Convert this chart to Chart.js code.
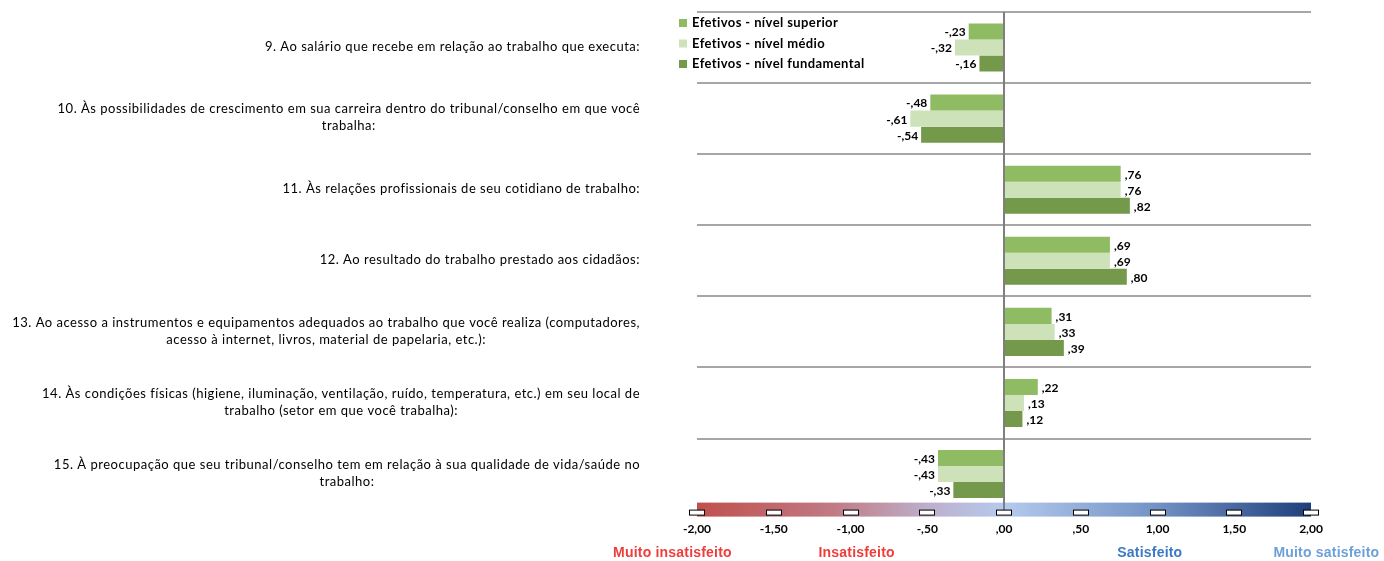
<!DOCTYPE html>
<html>
<head>
<meta charset="utf-8">
<script src="https://cdn.jsdelivr.net/npm/chart.js@4.4.0/dist/chart.umd.min.js"></script>
<style>
  html, body { margin: 0; padding: 0; background: #fff; }
  #wrap { position: relative; width: 1384px; height: 561px; }
</style>
</head>
<body>
<div id="wrap"><canvas id="chart" width="1384" height="561"></canvas></div>
<script>
// categories (each entry = lines of the label)
const questions = [
  ['9. Ao salário que recebe em relação ao trabalho que executa:'],
  ['10. Às possibilidades de crescimento em sua carreira dentro do tribunal/conselho em que você', 'trabalha:'],
  ['11. Às relações profissionais de seu cotidiano de trabalho:'],
  ['12. Ao resultado do trabalho prestado aos cidadãos:'],
  ['13. Ao acesso a instrumentos e equipamentos adequados ao trabalho que você realiza (computadores,', 'acesso à internet, livros, material de papelaria, etc.):'],
  ['14. Às condições físicas (higiene, iluminação, ventilação, ruído, temperatura, etc.) em seu local de', 'trabalho (setor em que você trabalha):'],
  ['15. À preocupação que seu tribunal/conselho tem em relação à sua qualidade de vida/saúde no', 'trabalho:']
]
const seriesNames = ['Efetivos - nível superior', 'Efetivos - nível médio', 'Efetivos - nível fundamental']
const superior = [-0.23, -0.48, 0.76, 0.69, 0.31, 0.22, -0.43]
const medio = [-0.32, -0.61, 0.76, 0.69, 0.33, 0.13, -0.43]
const fundamental = [-0.16, -0.54, 0.82, 0.80, 0.39, 0.12, -0.33]
const scaleMin = -2, scaleMax = 2, scaleStep = 0.5
const ratingLabels = ['Muito insatisfeito', 'Insatisfeito', 'Satisfeito', 'Muito satisfeito']
const ratingAnchors = [-2.16, -0.96, 0.95, 2.1]

const colors = ['#8fbc62', '#cde2b9', '#74994a']
const ratingColors = ['#ee3d3a', '#ee3d3a', '#3b79c6', '#6d9fd9']

function fmt(v){
  const s = Math.abs(v).toFixed(2).replace('.', ',').replace(/^0,/, ',')
  return (v < 0 ? '-' : '') + s
}

const overlay = {
  id: 'overlay',
  afterDatasetsDraw(chart){
    const ctx = chart.ctx
    const x = chart.scales.x, y = chart.scales.y
    const area = chart.chartArea
    ctx.save()

    // value labels
    ctx.font = 'bold 12px Lato'
    ctx.fillStyle = '#000'
    ctx.textBaseline = 'middle'
    chart.data.datasets.forEach((ds, di)=>{
      chart.getDatasetMeta(di).data.forEach((bar, i)=>{
        const v = ds.data[i]
        if(v < 0){ ctx.textAlign = 'right'; ctx.fillText(fmt(v), bar.x - 3, bar.y + 1) }
        else { ctx.textAlign = 'left'; ctx.fillText(fmt(v), bar.x + 4, bar.y + 1) }
      })
    })

    // category labels: block right-aligned, lines centered in block
    ctx.font = '13px Lato'
    ctx.letterSpacing = '0.5px'
    ctx.fillStyle = '#000'
    ctx.textAlign = 'center'
    const right = 640
    questions.forEach((lines, i)=>{
      const w = Math.max(...lines.map(l=>ctx.measureText(l).width))
      const cy = y.getPixelForValue(i)
      const lh = 17
      lines.forEach((l, k)=>{
        ctx.fillText(l, right - w/2, cy - 1 + (k - (lines.length-1)/2)*lh)
      })
    })

    // gradient scale bar
    ctx.letterSpacing = '0px'
    const gx0 = x.getPixelForValue(scaleMin), gx1 = x.getPixelForValue(scaleMax)
    const gTop = area.bottom - 7, gBot = area.bottom + 7
    const g = ctx.createLinearGradient(gx0, 0, gx1, 0)
    g.addColorStop(0, '#c0504d')
    g.addColorStop(0.22, '#c17a84')
    g.addColorStop(0.38, '#bdb0cc')
    g.addColorStop(0.5, '#b5caed')
    g.addColorStop(0.75, '#7292c5')
    g.addColorStop(1, '#1f3f7c')
    ctx.fillStyle = g
    ctx.fillRect(gx0, gTop, gx1 - gx0, gBot - gTop)

    // zero line
    const zx = x.getPixelForValue(0)
    ctx.strokeStyle = '#7f7f7f'
    ctx.lineWidth = 2
    ctx.beginPath()
    ctx.moveTo(zx, area.top)
    ctx.lineTo(zx, gBot - 2)
    ctx.stroke()

    // tick boxes
    ctx.lineWidth = 1
    ctx.strokeStyle = '#000'
    ctx.fillStyle = '#fff'
    for(let v = scaleMin; v <= scaleMax + 1e-9; v += scaleStep){
      const px = Math.round(x.getPixelForValue(v))
      ctx.fillRect(px - 7.5, area.bottom + 0.5, 15, 5)
      ctx.strokeRect(px - 7.5, area.bottom + 0.5, 15, 5)
    }

    // legend
    ctx.textAlign = 'left'
    ctx.font = 'bold 13px Lato'
    ctx.letterSpacing = '0.4px'
    seriesNames.forEach((n, i)=>{
      const ly = area.top + 11 + i*20.5
      ctx.fillStyle = colors[i]
      ctx.fillRect(area.left - 18, ly - 4, 8, 8)
      ctx.fillStyle = '#000'
      ctx.fillText(n, area.left - 5, ly)
    })

    // rating labels
    ctx.font = 'bold 14px "Liberation Sans"'
    ctx.letterSpacing = '0.2px'
    ctx.textAlign = 'center'
    ratingLabels.forEach((t, i)=>{
      ctx.fillStyle = ratingColors[i]
      ctx.fillText(t, x.getPixelForValue(ratingAnchors[i]), 553)
    })
    ctx.restore()
  }
}

new Chart(document.getElementById('chart'), {
  type: 'bar',
  data: {
    labels: questions.map(q=>q.join(' ')),
    datasets: [
      {label: seriesNames[0], data: superior, backgroundColor: colors[0]},
      {label: seriesNames[1], data: medio, backgroundColor: colors[1]},
      {label: seriesNames[2], data: fundamental, backgroundColor: colors[2]}
    ]
  },
  options: {
    indexAxis: 'y',
    responsive: false,
    animation: false,
    layout: { padding: {left: 697, right: 73, top: 12, bottom: 13} },
    datasets: { bar: { barPercentage: 1, categoryPercentage: 0.676, borderWidth: 0 } },
    plugins: { legend: {display: false}, tooltip: {enabled: false} },
    scales: {
      x: {
        min: scaleMin, max: scaleMax,
        ticks: { stepSize: scaleStep, callback: v=>fmt(v), color: '#000', font: {family: 'Lato', weight: 'bold', size: 12}, padding: 12, maxRotation: 0 },
        grid: { display: false, drawTicks: false },
        border: { display: false }
      },
      y: {
        ticks: { display: false },
        grid: { offset: true, color: '#a6a6a6', lineWidth: 2, drawTicks: false },
        border: { display: false },
        afterFit(s){ s.width = 0 }
      }
    }
  },
  plugins: [overlay]
})
</script>
</body>
</html>
